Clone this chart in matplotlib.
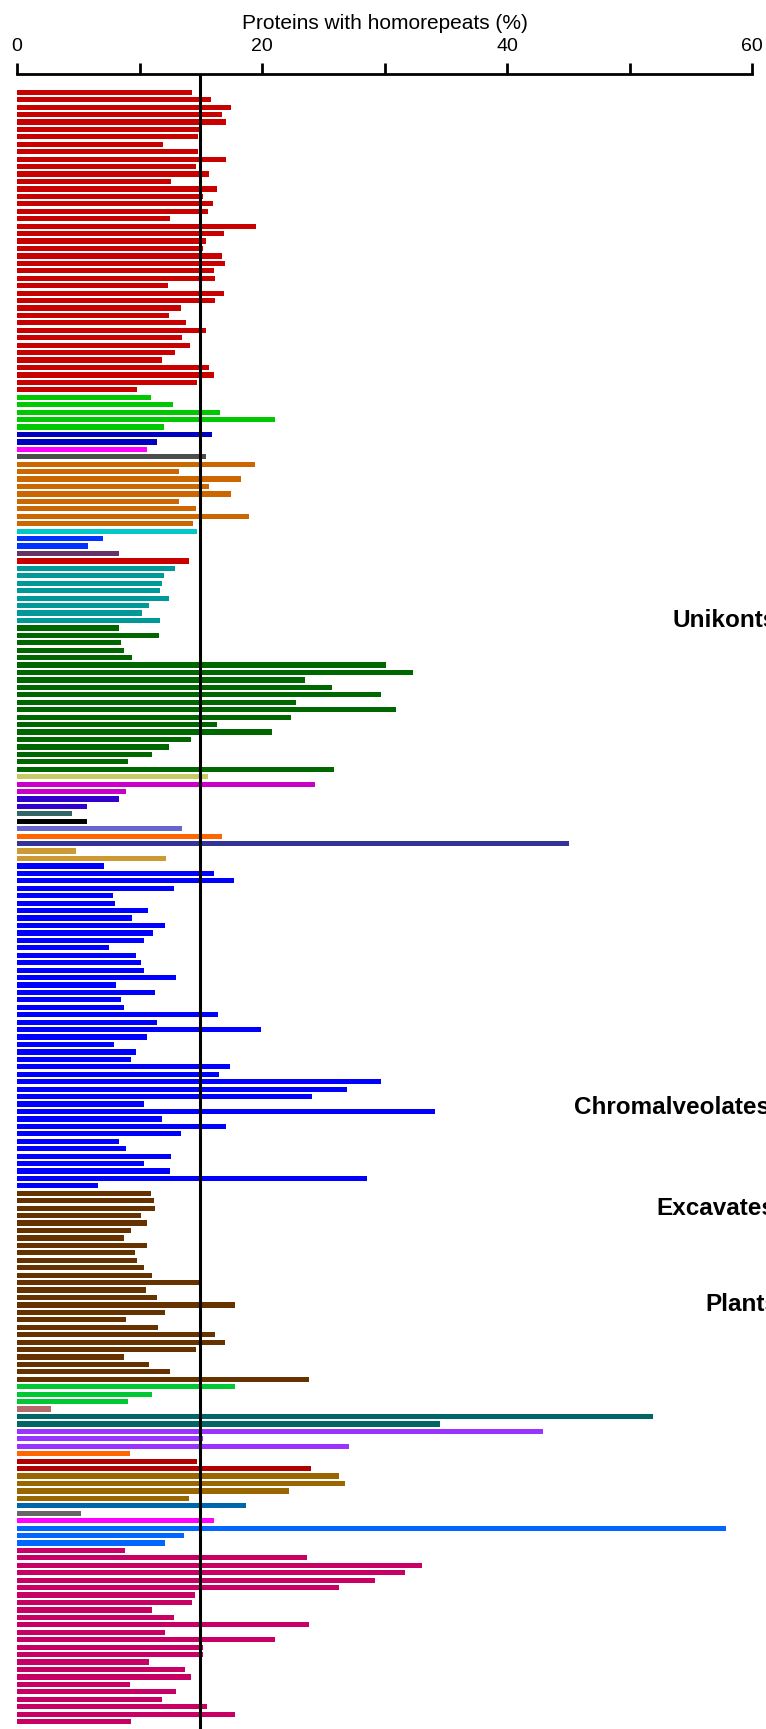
import matplotlib
matplotlib.use("Agg")
import matplotlib.pyplot as plt
from matplotlib.ticker import MultipleLocator

plt.rcParams['font.family'] = ['Liberation Sans', 'DejaVu Sans']

# ---- data (percent of proteins with homorepeats), top to bottom ----
red_vals = [14.3, 15.8, 17.5, 16.7, 17.1, 15.1, 14.8, 11.9, 14.8, 17.1,
            14.6, 15.7, 12.6, 16.3, 15.2, 16.0, 15.6, 12.5, 19.5, 16.9,
            15.4, 15.2, 16.7, 17.0, 16.1, 16.2, 12.3, 16.9, 16.2, 13.4,
            12.4, 13.8, 15.4, 13.5, 14.1, 12.9, 11.8, 15.7, 16.1, 14.7, 9.8]
green1_vals = [10.9, 12.7, 16.6, 21.1, 12.0]
dblue_vals = [15.9, 11.4]
magenta1_vals = [10.6]
dgray_vals = [15.4]
orange1_vals = [19.4, 13.2, 18.3, 15.7, 17.5, 13.2, 14.6, 18.9, 14.4]
cyan_vals = [14.7]
blue2_vals = [7.0, 5.8]
plum_vals = [8.3]
red2_vals = [14.0]
teal_vals = [12.9, 12.0, 11.8, 11.7, 12.4, 10.8, 10.2, 11.7]
dgreen_vals = [8.3, 11.6, 8.5, 8.7, 9.4, 30.1, 32.3, 23.5, 25.7, 29.7,
               22.8, 30.9, 22.4, 16.3, 20.8, 14.2, 12.4, 11.0, 9.1, 25.9]
khaki_vals = [15.6]
magenta2_vals = [24.3, 8.9]
violet_vals = [8.3, 5.7]
slate_vals = [4.5]
black_vals = [5.7]
lavender_vals = [13.5]
orange2_vals = [16.7]
navy_vals = [45.1]
goldenrod_vals = [4.8, 12.2]
blue_vals = [7.1, 16.1, 17.7, 12.8, 7.8, 8.0, 10.7, 9.4, 12.1, 11.1,
             10.4, 7.5, 9.7, 10.1, 10.4, 13.0, 8.1, 11.3, 8.5, 8.7,
             16.4, 11.4, 19.9, 10.6, 7.9, 9.7, 9.3, 17.4, 16.5, 29.7,
             26.9, 24.1, 10.4, 34.1, 11.8, 17.1, 13.4, 8.3, 8.9, 12.6,
             10.4, 12.5, 28.6, 6.6]
brown_vals = [10.9, 11.2, 11.3, 10.1, 10.6, 9.3, 8.7, 10.6, 9.6, 9.8,
              10.4, 11.0, 15.1, 10.5, 11.4, 17.8, 12.1, 8.9, 11.5, 16.2,
              17.0, 14.6, 8.7, 10.8, 12.5, 23.8]
green2_vals = [17.8, 11.0, 9.1]
rosy_vals = [2.8]
dteal_vals = [51.9, 34.5]
purple_vals = [42.9, 15.2, 27.1]
orange3_vals = [9.2]
dred_vals = [14.7, 24.0]
dgold_vals = [26.3, 26.8, 22.2, 14.0]
steel_vals = [18.7]
gray_vals = [5.2]
magenta3_vals = [16.1]
bblue_vals = [57.9, 13.6, 12.1]
crimson_vals = [8.8, 23.7, 33.1, 31.7, 29.2, 26.3, 14.5, 14.3, 11.0, 12.8,
                23.8, 12.1, 21.1, 15.2, 15.2, 10.8, 13.7, 14.2, 9.2, 13.0,
                11.8, 15.5, 17.8, 9.3]

reference_line = 14.9
tick_labels = ["0", "20", "40", "60"]
group_labels = ["Unikonts", "Chromalveolates", "Excavates", "Plants"]

groups = [
    (red_vals, "#c80000"), (green1_vals, "#00c800"), (dblue_vals, "#0000c0"),
    (magenta1_vals, "#ff00ff"), (dgray_vals, "#4d4d4d"), (orange1_vals, "#cc6600"),
    (cyan_vals, "#00c8c8"), (blue2_vals, "#0033ff"), (plum_vals, "#663366"),
    (red2_vals, "#c80000"), (teal_vals, "#009999"), (dgreen_vals, "#006600"),
    (khaki_vals, "#c8c864"), (magenta2_vals, "#c800c8"), (violet_vals, "#3300cc"),
    (slate_vals, "#336666"), (black_vals, "#000000"), (lavender_vals, "#6666cc"),
    (orange2_vals, "#ff6600"), (navy_vals, "#333399"), (goldenrod_vals, "#cc9933"),
    (blue_vals, "#0000ff"), (brown_vals, "#663300"), (green2_vals, "#00c832"),
    (rosy_vals, "#b36b6b"), (dteal_vals, "#006666"), (purple_vals, "#9933ff"),
    (orange3_vals, "#ff6600"), (dred_vals, "#b00000"), (dgold_vals, "#996600"),
    (steel_vals, "#0066aa"), (gray_vals, "#666666"), (magenta3_vals, "#ff00ff"),
    (bblue_vals, "#0066ff"), (crimson_vals, "#c80064"),
]

values = []
colors = []
for vals, col in groups:
    values.extend(vals)
    colors.extend([col] * len(vals))
n = len(values)

W, H = 766, 1729
fig = plt.figure(figsize=(W / 100, H / 100), dpi=100)
left_px, right_px, top_px = 17, 752, 74
ax = fig.add_axes([left_px / W, 0, (right_px - left_px) / W, 1 - top_px / H])

ax.barh(range(n), values, height=0.7, color=colors, edgecolor='none', zorder=2)
ax.axvline(reference_line, color='black', lw=2.2, zorder=3)

ax.set_xlim(0, 60)
ax.set_ylim(n - 1 + 1.0, -2.45)

for s in ['bottom', 'left', 'right']:
    ax.spines[s].set_visible(False)
ax.spines['top'].set_linewidth(2)
ax.xaxis.tick_top()
ax.xaxis.set_label_position('top')
ax.xaxis.set_minor_locator(MultipleLocator(10))
ax.set_xticks([0, 20, 40, 60])
ax.set_xticklabels(tick_labels, fontsize=14)
ax.tick_params(axis='x', which='both', direction='out', length=8, width=2, pad=6)
ax.set_yticks([])
ax.set_xlabel("Proteins with homorepeats (%)", fontsize=15, labelpad=6)

label_rows = [71, 136.5, 150, 163]
label_x = [53.55, 45.5, 52.2, 56.2]
for txt, row, xv in zip(group_labels, label_rows, label_x):
    ax.text(xv, row, txt, fontsize=17.5, fontweight='bold', ha='left',
            va='center', clip_on=False)

fig.savefig("out.png", dpi=100)
